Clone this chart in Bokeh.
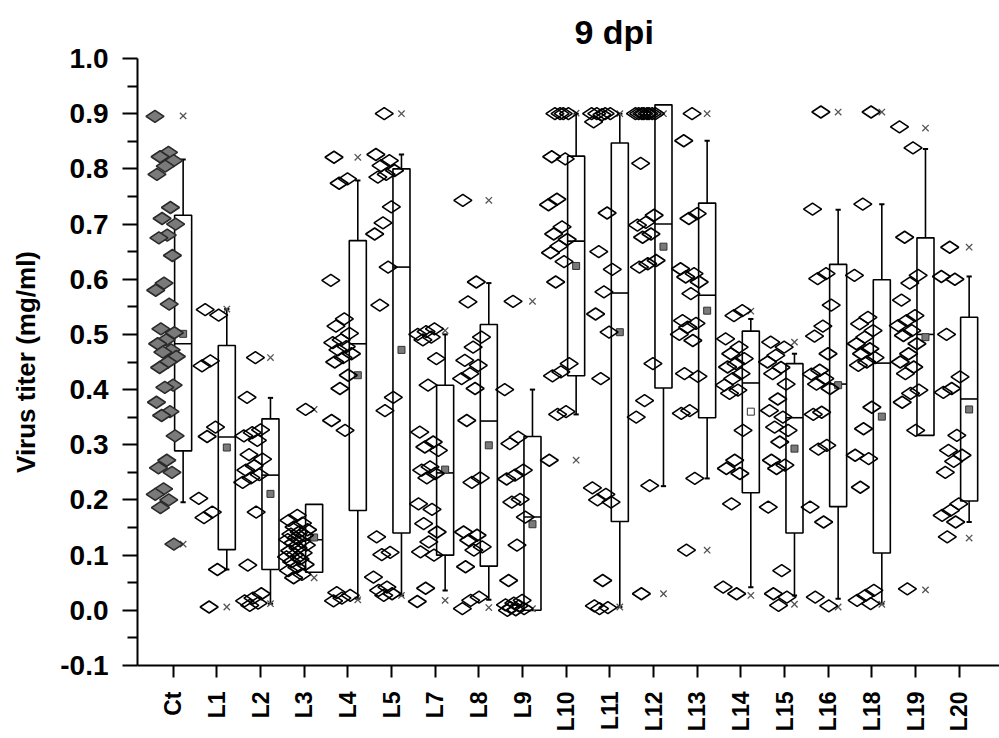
import numpy as np
from bokeh.plotting import figure
from bokeh.models import (Range1d, FixedTicker, PrintfTickFormatter, ColumnDataSource)
from bokeh.embed import file_html
from bokeh.resources import INLINE

# ---------------- data ----------------
categories = ["Ct", "L1", "L2", "L3", "L4", "L5", "L7", "L8", "L9", "L10",
              "L11", "L12", "L13", "L14", "L15", "L16", "L18", "L19", "L20"]

ct = [0.895, 0.83, 0.822, 0.815, 0.805, 0.79, 0.73, 0.71, 0.70, 0.68, 0.675, 0.643,
      0.593, 0.58, 0.555, 0.51, 0.503, 0.49, 0.483, 0.472, 0.468, 0.46, 0.45, 0.44,
      0.408, 0.404, 0.377, 0.36, 0.353, 0.316, 0.272, 0.258, 0.25, 0.22, 0.21, 0.2,
      0.186, 0.12]
l1 = [0.545, 0.535, 0.452, 0.443, 0.332, 0.315, 0.203, 0.178, 0.168, 0.074, 0.006]
l2 = [0.458, 0.386, 0.327, 0.322, 0.316, 0.308, 0.282, 0.274, 0.262, 0.254, 0.246,
      0.24, 0.232, 0.178, 0.082, 0.03, 0.022, 0.017, 0.013, 0.009]
l3 = [0.364, 0.172, 0.163, 0.158, 0.151, 0.146, 0.142, 0.138, 0.136, 0.131, 0.128,
      0.125, 0.122, 0.118, 0.113, 0.108, 0.104, 0.101, 0.097, 0.093, 0.088, 0.083,
      0.078, 0.072, 0.065, 0.059]
l4 = [0.821, 0.782, 0.774, 0.598, 0.528, 0.515, 0.502, 0.49, 0.485, 0.478, 0.472,
      0.465, 0.458, 0.45, 0.426, 0.402, 0.344, 0.326, 0.032, 0.027, 0.022, 0.017]
l5 = [0.9, 0.826, 0.815, 0.806, 0.797, 0.79, 0.785, 0.731, 0.702, 0.682, 0.622,
      0.553, 0.386, 0.362, 0.133, 0.105, 0.101, 0.06, 0.042, 0.036, 0.03, 0.027]
l7 = [0.51, 0.505, 0.5, 0.495, 0.49, 0.456, 0.408, 0.323, 0.305, 0.296, 0.29, 0.26,
      0.254, 0.248, 0.24, 0.193, 0.183, 0.157, 0.142, 0.124, 0.106, 0.1, 0.04, 0.016]
l8 = [0.743, 0.595, 0.559, 0.495, 0.477, 0.453, 0.444, 0.429, 0.42, 0.402, 0.344,
      0.24, 0.232, 0.142, 0.136, 0.127, 0.115, 0.109, 0.079, 0.024, 0.018, 0.003]
l9 = [0.56, 0.40, 0.314, 0.302, 0.254, 0.245, 0.238, 0.201, 0.196, 0.169, 0.118,
      0.054, 0.018, 0.013, 0.01, 0.008, 0.005, 0.003, 0.001, 0.0]
l10 = [0.9, 0.9, 0.9, 0.9, 0.822, 0.818, 0.745, 0.735, 0.695, 0.682, 0.672, 0.66,
       0.648, 0.632, 0.595, 0.447, 0.432, 0.425, 0.36, 0.355, 0.272]
l11 = [0.9, 0.9, 0.9, 0.9, 0.898, 0.885, 0.72, 0.65, 0.618, 0.577, 0.537, 0.504,
       0.42, 0.222, 0.21, 0.2, 0.196, 0.054, 0.008, 0.005, 0.003]
l12 = [0.9, 0.9, 0.9, 0.9, 0.9, 0.9, 0.9, 0.9, 0.81, 0.716, 0.703, 0.698, 0.682,
       0.676, 0.634, 0.628, 0.622, 0.447, 0.38, 0.35, 0.226, 0.03]
l13 = [0.9, 0.851, 0.719, 0.71, 0.619, 0.61, 0.604, 0.595, 0.574, 0.525, 0.52,
       0.513, 0.5, 0.489, 0.429, 0.424, 0.362, 0.357, 0.239, 0.109]
l14 = [0.543, 0.534, 0.492, 0.477, 0.465, 0.456, 0.447, 0.441, 0.429, 0.42, 0.408,
       0.399, 0.393, 0.326, 0.272, 0.257, 0.248, 0.193, 0.042, 0.03]
l15 = [0.486, 0.477, 0.462, 0.45, 0.44, 0.429, 0.41, 0.383, 0.362, 0.35, 0.332,
       0.326, 0.305, 0.272, 0.263, 0.257, 0.187, 0.072, 0.03, 0.024, 0.009]
l16 = [0.903, 0.727, 0.61, 0.601, 0.553, 0.515, 0.497, 0.465, 0.435, 0.428, 0.42,
       0.41, 0.402, 0.359, 0.355, 0.299, 0.292, 0.187, 0.16, 0.024, 0.008]
l18 = [0.903, 0.736, 0.607, 0.531, 0.519, 0.507, 0.495, 0.483, 0.474, 0.465, 0.458,
       0.45, 0.444, 0.368, 0.329, 0.281, 0.275, 0.223, 0.036, 0.027, 0.018, 0.012]
l19 = [0.876, 0.838, 0.676, 0.607, 0.593, 0.562, 0.534, 0.525, 0.516, 0.507, 0.498,
       0.483, 0.465, 0.45, 0.441, 0.429, 0.399, 0.393, 0.377, 0.326, 0.039]
l20 = [0.658, 0.605, 0.6, 0.5, 0.423, 0.402, 0.395, 0.317, 0.29, 0.281, 0.27, 0.25,
       0.193, 0.181, 0.172, 0.16, 0.133]

# box statistics per category (same order as categories)
q1 = [0.289, 0.11, 0.074, 0.069, 0.181, 0.14, 0.10, 0.08, 0.0, 0.425,
      0.161, 0.403, 0.349, 0.213, 0.14, 0.188, 0.104, 0.317, 0.198]
median = [0.483, 0.314, 0.245, 0.128, 0.483, 0.622, 0.249, 0.343, 0.169, 0.669,
          0.575, 0.70, 0.571, 0.412, 0.349, 0.41, 0.448, 0.50, 0.383]
q3 = [0.716, 0.48, 0.347, 0.192, 0.670, 0.80, 0.408, 0.518, 0.315, 0.823,
      0.847, 0.916, 0.738, 0.506, 0.447, 0.627, 0.599, 0.675, 0.531]
whisker_low = [0.196, 0.074, 0.012, 0.075, 0.021, 0.027, 0.036, 0.019, 0.0, 0.355,
               0.006, 0.225, 0.239, 0.042, 0.027, 0.021, 0.012, 0.324, 0.16]
whisker_high = [0.817, 0.546, 0.385, 0.17, 0.779, 0.826, 0.50, 0.593, 0.40, 0.90,
                0.90, 0.90, 0.851, 0.528, 0.465, 0.726, 0.736, 0.836, 0.605]
minimum = [0.12, 0.006, 0.012, 0.059, 0.019, 0.027, 0.018, 0.005, 0.003, 0.272,
           0.006, 0.03, 0.109, 0.027, 0.011, 0.006, 0.011, 0.037, 0.131]
maximum = [0.896, 0.546, 0.458, 0.364, 0.821, 0.90, 0.507, 0.743, 0.56, 0.901,
           0.90, 0.90, 0.90, 0.542, 0.486, 0.903, 0.903, 0.874, 0.658]
mean = [0.501, 0.295, 0.211, 0.132, 0.426, 0.472, 0.255, 0.299, 0.156, 0.624,
        0.504, 0.659, 0.543, 0.36, 0.293, 0.408, 0.351, 0.495, 0.364]

y_ticks = [-0.1, 0.0, 0.1, 0.2, 0.3, 0.4, 0.5, 0.6, 0.7, 0.8, 0.9, 1.0]
title_text = "9 dpi"
y_label = "Virus titer (mg/ml)"

groups = [ct, l1, l2, l3, l4, l5, l7, l8, l9, l10, l11, l12, l13, l14, l15, l16,
          l18, l19, l20]

# ---------------- figure ----------------
FONT = "Liberation Sans"
p = figure(width=999, height=738, x_range=Range1d(-0.82, 18.92),
           y_range=Range1d(-0.1, 1.0), output_backend="svg", toolbar_location=None,
           min_border_left=137, min_border_right=0, min_border_top=58,
           min_border_bottom=73, title=title_text)
p.outline_line_color = None
p.grid.visible = False
p.background_fill_color = "white"
p.border_fill_color = "white"

p.title.align = "left"
p.title.offset = 437
p.title.text_font = FONT
p.title.text_font_size = "34px"
p.title.text_font_style = "bold"
p.title.text_color = "black"
p.title.standoff = 16

# y axis
ya = p.yaxis[0]
ya.ticker = FixedTicker(ticks=y_ticks,
                        minor_ticks=[t + 0.05 for t in y_ticks[:-1]])
ya.formatter = PrintfTickFormatter(format="%.1f")
ya.axis_line_width = 2
ya.major_tick_line_width = 2
ya.minor_tick_line_width = 2
ya.major_tick_out = 15
ya.major_tick_in = 0
ya.minor_tick_out = 10
ya.minor_tick_in = 0
ya.major_label_text_font = FONT
ya.major_label_text_font_size = "28px"
ya.major_label_text_font_style = "bold"
ya.major_label_text_color = "black"
ya.major_label_standoff = 14
ya.axis_label = y_label
ya.axis_label_text_font = FONT
ya.axis_label_text_font_size = "26px"
ya.axis_label_text_font_style = "bold"
ya.axis_label_text_color = "black"
ya.axis_label_standoff = 16

# x axis with vertical category labels
xa = p.xaxis[0]
xa.ticker = FixedTicker(ticks=list(range(len(categories))))
xa.major_label_overrides = {i: c for i, c in enumerate(categories)}
xa.major_label_orientation = np.pi / 2
xa.major_label_text_font = FONT
xa.major_label_text_font_size = "23px"
xa.major_label_text_font_style = "bold"
xa.major_label_text_color = "black"
xa.major_label_standoff = 14
xa.axis_line_width = 2
xa.major_tick_line_width = 2
xa.major_tick_out = 12
xa.major_tick_in = 0
xa.minor_tick_line_color = None

# ---------------- boxes ----------------
idx = np.arange(len(categories))
cx = idx + 0.225
box_src = ColumnDataSource(dict(left=idx + 0.03, right=idx + 0.42, cx=cx,
                                q1=q1, q3=q3, med=median, wl=whisker_low,
                                wh=whisker_high, mn=minimum, mx=maximum, mean=mean,
                                cl=cx - 0.06, cr=cx + 0.06,
                                mfill=["white" if c == "L14" else "#7a7a7a"
                                       for c in categories]))
p.segment(x0="cx", y0="q3", x1="cx", y1="wh", source=box_src, line_color="black",
          line_width=1.6)
p.segment(x0="cx", y0="q1", x1="cx", y1="wl", source=box_src, line_color="black",
          line_width=1.6)
p.segment(x0="cl", y0="wh", x1="cr", y1="wh", source=box_src, line_color="black",
          line_width=2)
p.segment(x0="cl", y0="wl", x1="cr", y1="wl", source=box_src, line_color="black",
          line_width=2)
p.quad(left="left", right="right", bottom="q1", top="q3", source=box_src,
       fill_color="white", line_color="black", line_width=1.6)
p.segment(x0="left", y0="med", x1="right", y1="med", source=box_src,
          line_color="black", line_width=1.6)
p.scatter(x="cx", y="mean", source=box_src, marker="square", size=7,
          fill_color="mfill", line_color="#333333", line_width=1)
p.scatter(x="cx", y="mx", source=box_src, marker="x", size=9,
          line_color="#555555", line_width=1.3)
p.scatter(x="cx", y="mn", source=box_src, marker="x", size=9,
          line_color="#555555", line_width=1.3)

# ---------------- points ----------------
px, py, pfill, pline = [], [], [], []
for gi, vals in enumerate(groups):
    for k, v in enumerate(vals):
        frac = (k * 0.618034 + gi * 0.3) % 1.0
        px.append(gi - 0.42 + 0.5 * frac)
        py.append(v)
        if gi == 0:
            pfill.append("#7a7a7a")
            pline.append("#2a2a2a")
        else:
            pfill.append(None)
            pline.append("black")
pt_src = ColumnDataSource(dict(x=px, y=py, fill=pfill, line=pline))
p.scatter(x="x", y="y", source=pt_src, marker="diamond", angle=np.pi / 2, size=18,
          fill_color="fill", line_color="line", line_width=1.6)

open("out.html", "w").write(file_html(p, INLINE))
